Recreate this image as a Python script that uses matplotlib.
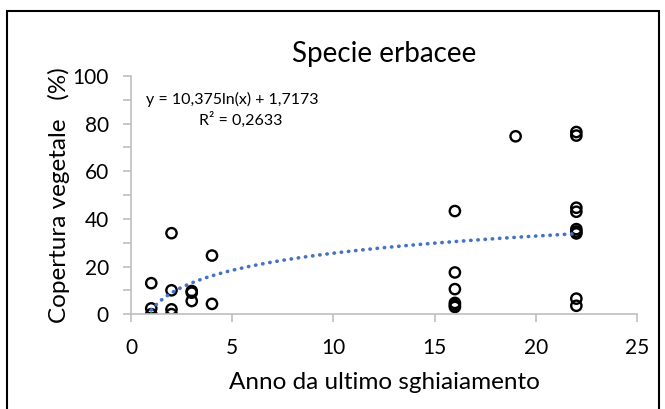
import numpy as np
import matplotlib.pyplot as plt
from matplotlib.patches import Rectangle

plt.rcParams['font.family'] = ['Lato', 'DejaVu Sans']

# years since last gravel removal vs. vegetation cover (%)
anni = [1, 1, 1,
        2, 2, 2, 2,
        3, 3, 3,
        4, 4,
        16, 16, 16, 16, 16, 16,
        19,
        22, 22, 22, 22, 22, 22, 22, 22, 22]
copertura = [13, 2.4, 0,
             34, 10, 2, 0,
             9.7, 9, 5.5,
             24.6, 4.3,
             43.3, 17.5, 10.5, 4.7, 3.8, 3,
             74.7,
             76.5, 75, 44.7, 43, 35.7, 34.7, 33.9, 6.5, 3.5]

# logarithmic trendline as printed on the chart
coef_a = 10.375
coef_b = 1.7173

fig = plt.figure(figsize=(6.65, 4.09), dpi=100)
ax = fig.add_axes([0.197, 0.232, 0.761, 0.582])

xt = np.linspace(1, 22, 200)
ax.plot(xt, coef_a * np.log(xt) + coef_b, color='#4472C4', lw=2.6,
        linestyle=(0, (0.1, 1.9)), dash_capstyle='round', zorder=3)
ax.scatter(anni, copertura, s=55, facecolors='none', edgecolors='black',
           linewidths=1.7, zorder=2)

ax.set_xlim(0, 25)
ax.set_ylim(0, 100)
ax.set_xticks([0, 5, 10, 15, 20, 25])
ax.set_yticks([0, 20, 40, 60, 80, 100])
ax.set_yticks(np.arange(10, 100, 20), minor=True)
ax.tick_params(axis='both', labelsize=15, color='#BFBFBF', length=6, width=1.2)
ax.tick_params(axis='x', pad=11)
ax.tick_params(axis='y', pad=10)
ax.tick_params(axis='y', which='minor', color='#BFBFBF', length=6, width=1.2)
for s in ['top', 'right']:
    ax.spines[s].set_visible(False)
for s in ['left', 'bottom']:
    ax.spines[s].set_color('#BFBFBF')
    ax.spines[s].set_linewidth(1.2)

ax.set_xlabel('Anno da ultimo sghiaiamento', fontsize=17.5, labelpad=10)
ax.set_ylabel('Copertura vegetale   (%)', fontsize=17.5, labelpad=2)
ax.set_title('Specie erbacee', fontsize=20, pad=10)

ax.text(5.0, 90, 'y = 10,375ln(x) + 1,7173', fontsize=11.5, ha='center', va='center')
ax.text(5.4, 81.5, 'R² = 0,2633', fontsize=11.5, ha='center', va='center')

fig.patches.append(Rectangle((0.0105, -0.02), 0.98, 0.993, transform=fig.transFigure,
                             fill=False, edgecolor='black', lw=1.5))

plt.savefig('out.png', dpi=100)
